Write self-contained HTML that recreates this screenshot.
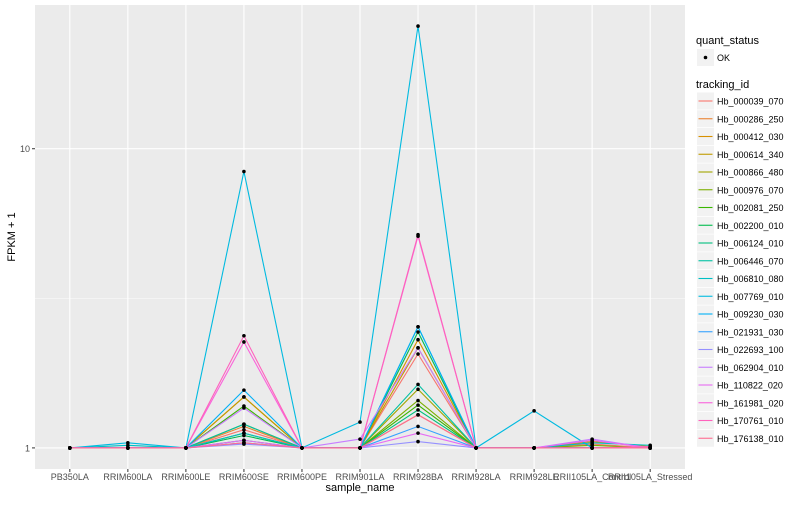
<!DOCTYPE html>
<html><head><meta charset="utf-8"><style>
body{margin:0;background:#fff;font-family:"Liberation Sans",sans-serif}
svg text{font-family:"Liberation Sans",sans-serif}
</style></head><body>
<svg id="chart" width="800" height="500" xmlns="http://www.w3.org/2000/svg">
<rect width="800" height="500" fill="#fff"/>
<rect x="35" y="5" width="650" height="464" fill="#ebebeb"/>
<g id="grid"></g><g id="lines"></g><g id="pts"></g><g id="axes"></g><g id="legend"></g>
</svg>
<script>
const categories=["PB350LA","RRIM600LA","RRIM600LE","RRIM600SE","RRIM600PE","RRIM901LA","RRIM928BA","RRIM928LA","RRIM928LE","RRII105LA_Control","RRII105LA_Stressed"];
const trackingIds=["Hb_000039_070","Hb_000286_250","Hb_000412_030","Hb_000614_340","Hb_000866_480","Hb_000976_070","Hb_002081_250","Hb_002200_010","Hb_006124_010","Hb_006446_070","Hb_006810_080","Hb_007769_010","Hb_009230_030","Hb_021931_030","Hb_022693_100","Hb_062904_010","Hb_110822_020","Hb_161981_020","Hb_170761_010","Hb_176138_010"];
const colors=["#F8766D","#EA8331","#D89000","#C09B00","#A3A500","#7CAE00","#39B600","#00BB4E","#00BF7D","#00C1A3","#00BFC4","#00BAE0","#00B0F6","#35A2FF","#9590FF","#C77CFF","#E76BF3","#FA62DB","#FF62BC","#FF6C91"];
const s0=[1,1,1,1.15,1,1,2.06,1,1,1.03,1];
const s1=[1,1,1,1.18,1,1,1.29,1,1,1,1];
const s2=[1,1,1,1.48,1,1,2.30,1,1,1.05,1.01];
const s3=[1,1,1,1.48,1,1,2.16,1,1,1,1];
const s4=[1,1,1,1.20,1,1,1.57,1,1,1,1];
const s5=[1,1,1,1.12,1,1,1.44,1,1,1.02,1];
const s6=[1,1,1,1.38,1,1,1.39,1,1,1,1];
const s7=[1,1,1,1.10,1,1,2.44,1,1,1,1];
const s8=[1,1,1,1.06,1,1,1.34,1,1,1,1];
const s9=[1,1,1,1.20,1,1,1.63,1,1,1,1];
const s10=[1,1.02,1,1.12,1,1,2.54,1,1,1.04,1.02];
const s11=[1,1.04,1,8.39,1,1.22,25.7,1,1.33,1,1];
const s12=[1,1,1,1.56,1,1,2.54,1,1,1,1];
const s13=[1,1,1,1.04,1,1,1.18,1,1,1,1];
const s14=[1,1,1,1.03,1,1,1.05,1,1,1,1];
const s15=[1,1,1,1.36,1,1.07,2.16,1,1,1.07,1];
const s16=[1,1,1,1.06,1,1,1.12,1,1,1.06,1];
const s17=[1,1,1,2.26,1,1,5.10,1,1,1,1];
const s18=[1,1,1,2.37,1,1,5.16,1,1,1,1.01];
const s19=[1,1,1,1.04,1,1,1.29,1,1,1,1];
const series=[s0,s1,s2,s3,s4,s5,s6,s7,s8,s9,s10,s11,s12,s13,s14,s15,s16,s17,s18,s19];
const yTicks=[1,10];
const NS="http://www.w3.org/2000/svg";
const PL=35,PR=685,PT=5,PB=469;
const n=categories.length;
const step=(PR-PL)/(n-1+1.2);
const xs=i=>PL+0.6*step+i*step;
const ymax=Math.log10(Math.max(...series.flat()));
const ymin=0;const ex=(ymax-ymin)*0.05;
const ys=v=>PB-(Math.log10(v)-(ymin-ex))/((ymax+ex)-(ymin-ex))*(PB-PT);
function mk(tag,attrs,parent,txt){const e=document.createElementNS(NS,tag);for(const k in attrs)e.setAttribute(k,attrs[k]);if(txt!==undefined)e.textContent=txt;parent.appendChild(e);return e;}
const grid=document.getElementById('grid'),lines=document.getElementById('lines'),pts=document.getElementById('pts'),axes=document.getElementById('axes'),leg=document.getElementById('legend');
// minor grid
for(let i=0;i<yTicks.length-1;i++){const m=Math.pow(10,(Math.log10(yTicks[i])+Math.log10(yTicks[i+1]))/2);const y=ys(m);
const g=mk('line',{x1:PL,x2:PR,y1:y,y2:y,stroke:'#fff','stroke-width':0.5},grid);

}
yTicks.forEach(t=>{const y=ys(t);
const g=mk('line',{x1:PL,x2:PR,y1:y,y2:y,stroke:'#fff','stroke-width':1.1},grid);


const tk=mk('line',{x1:PL-3,x2:PL,y1:y,y2:y,stroke:'#333','stroke-width':1},axes);


const l=mk('text',{x:PL-5,y:y+3.5,'text-anchor':'end','font-size':9,fill:'#4d4d4d'},axes,String(t));

});
categories.forEach((c,i)=>{const x=xs(i);
const g=mk('line',{x1:x,x2:x,y1:PT,y2:PB,stroke:'#fff','stroke-width':1.1},grid);


const tk=mk('line',{x1:x,x2:x,y1:PB,y2:PB+3,stroke:'#333','stroke-width':1},axes);


const l=mk('text',{x:x,y:PB+11,'text-anchor':'middle','font-size':9,fill:'#4d4d4d'},axes,c);

});
const xt=mk('text',{x:(PL+PR)/2,y:491,'text-anchor':'middle','font-size':11,fill:'#000'},axes,'sample_name');


const yt=mk('text',{x:0,y:0,transform:'translate(15,'+((PT+PB)/2)+') rotate(-90)','text-anchor':'middle','font-size':11,fill:'#000'},axes,'FPKM + 1');


series.forEach((s,k)=>{const d=s.map((v,i)=>(i?'L':'M')+xs(i).toFixed(1)+','+ys(v).toFixed(1)).join('');
const p=mk('path',{d:d,fill:'none',stroke:colors[k],'stroke-width':1.1},lines);


s.forEach((v,i)=>{const c=mk('circle',{cx:xs(i),cy:ys(v),r:1.8,fill:'#000'},pts);

});});
// legend
const lt=mk('text',{x:696,y:44,'font-size':11,fill:'#000'},leg,'quant_status');


mk('rect',{x:697,y:49,width:17,height:17,fill:'#f2f2f2'},leg);
mk('circle',{cx:705.5,cy:57.5,r:1.8,fill:'#000'},leg);
const ok=mk('text',{x:717,y:61,'font-size':9,fill:'#000'},leg,'OK');


const tt=mk('text',{x:696,y:88,'font-size':11,fill:'#000'},leg,'tracking_id');


trackingIds.forEach((id,k)=>{const y=101+k*17.75;
mk('rect',{x:697,y:y-8.5,width:17,height:17,fill:'#f2f2f2'},leg);
mk('line',{x1:698.5,x2:712.5,y1:y,y2:y,stroke:colors[k],'stroke-width':1.1},leg);
const t=mk('text',{x:717,y:y+3.5,'font-size':9,fill:'#000'},leg,id);

});
</script>
</body></html>
